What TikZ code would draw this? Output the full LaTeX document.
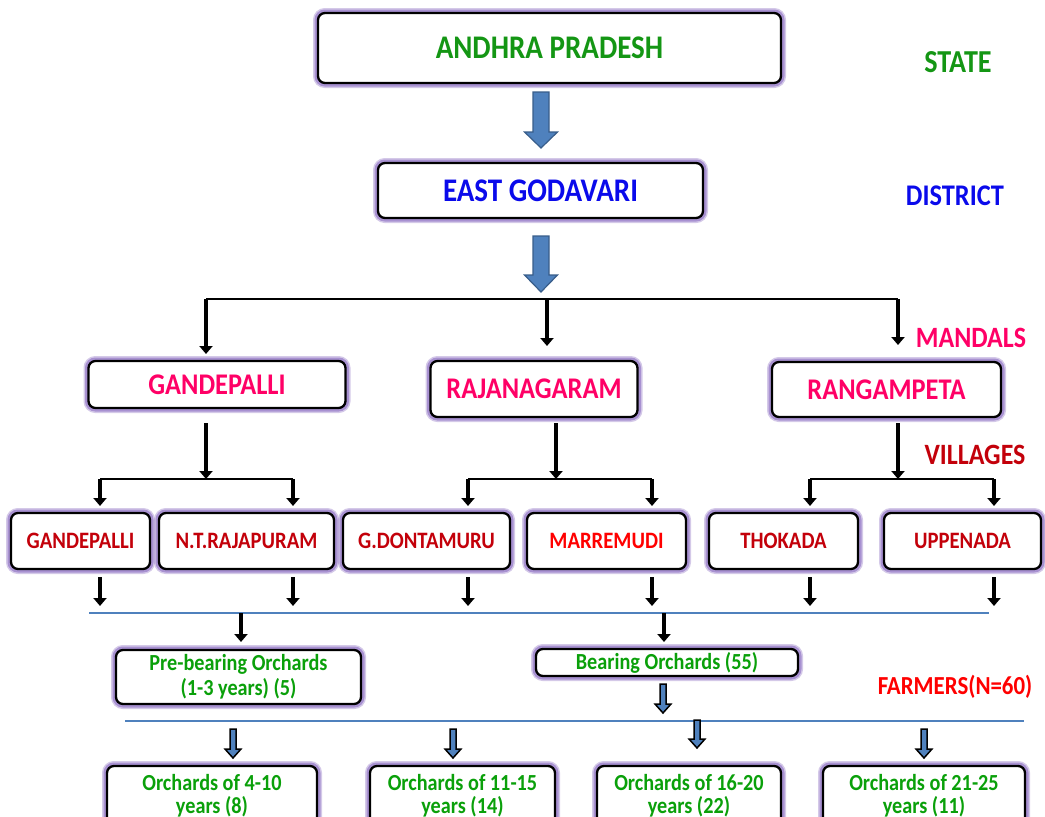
\documentclass[tikz,border=0pt]{standalone}
\usepackage{fontspec}
\setmainfont{Carlito}[FakeStretch=0.88]
\usetikzlibrary{arrows.meta}
\definecolor{glow}{RGB}{160,135,205}
\definecolor{apgreen}{RGB}{20,150,20}
\definecolor{okgreen}{RGB}{10,160,10}
\definecolor{egblue}{RGB}{10,10,235}
\definecolor{pink}{RGB}{255,0,102}
\definecolor{dred}{RGB}{195,0,10}
\definecolor{bred}{RGB}{255,0,0}
\definecolor{arrblue}{RGB}{79,129,189}
\definecolor{arredge}{RGB}{56,93,138}
\newcommand\fs[1]{\fontsize{#1}{#1}\selectfont\bfseries}
\newcommand\barrow[7]{% x, ytop, ytip, half shaft, half head, head length, style
  \draw[#7] (#1-#4,#2) -- (#1+#4,#2) -- (#1+#4,#3-#6) -- (#1+#5,#3-#6) -- (#1,#3)
    -- (#1-#5,#3-#6) -- (#1-#4,#3-#6) -- cycle;}
\tikzset{
  box/.style={draw=black, line width=2.3pt, rounded corners=7pt, fill=white,
    preaction={draw=glow, line width=10pt, opacity=0.45},
    preaction={draw=glow, line width=7pt, opacity=0.85},
    align=center, inner sep=2pt},
  arr/.style={line width=3.6pt, -{Triangle[width=13pt,length=8pt]}},
  bus/.style={line width=1.6pt},
  sep/.style={draw=arrblue, line width=1.2pt},
  bigarrow/.style={fill=arrblue, draw=arredge, line width=1.2pt},
  smallarrow/.style={fill=arrblue, draw=black, line width=1.5pt},
  lbl/.style={inner sep=0pt}
}
\begin{document}
\begin{tikzpicture}[x=1pt,y=-1pt]
\useasboundingbox (0,0) rectangle (1045,817);
\clip (0,0) rectangle (1045,817);
% top levels
\node[box, minimum width=463, minimum height=70, text=apgreen, font=\fs{33}] (ap) at (549.5,48) {ANDHRA PRADESH};
\node[box, minimum width=325, minimum height=55, text=egblue, font=\fs{33}] (eg) at (540.5,190.5) {EAST GODAVARI};
\node[lbl, text=apgreen, font=\fs{32}] (lstate) at (958,62) {STATE};
\node[lbl, text=egblue, font=\fs{30}] (ldist) at (955,196) {DISTRICT};
\barrow{541}{92}{148}{8}{16.5}{16}{bigarrow}
\barrow{541}{236}{292}{8}{16.5}{17}{bigarrow}
% mandals
\node[box, minimum width=257, minimum height=47, text=pink, font=\fs{30}] (m1) at (217,384.5) {GANDEPALLI};
\node[box, minimum width=207, minimum height=56, text=pink, font=\fs{30}] (m2) at (534,389) {RAJANAGARAM};
\node[box, minimum width=229, minimum height=55, text=pink, font=\fs{30}] (m3) at (886.5,389.5) {RANGAMPETA};
\node[lbl, text=pink, font=\fs{29.5}] (lmand) at (971,338) {MANDALS};
\node[lbl, text=dred, font=\fs{29.5}] (lvill) at (975,455) {VILLAGES};
\coordinate (t0) at (206,299);
\coordinate (t1) at (898,299);
\draw[bus] (t0) -- (t1);
\draw[arr] (t0) -- (206,354);
\draw[arr] (547,299) -- (547,346);
\draw[arr] (t1) -- (898,345);
% villages
\node[box, minimum width=139, minimum height=56, text=dred, font=\fs{23.5}] (v1) at (80.5,541) {GANDEPALLI};
\node[box, minimum width=175, minimum height=56, text=dred, font=\fs{23.5}] (v2) at (246.5,541) {N.T.RAJAPURAM};
\node[box, minimum width=167, minimum height=56, text=dred, font=\fs{23.5}] (v3) at (426.5,541) {G.DONTAMURU};
\node[box, minimum width=159, minimum height=56, text=bred, font=\fs{23.5}] (v4) at (606.5,541) {MARREMUDI};
\node[box, minimum width=149, minimum height=56, text=dred, font=\fs{23.5}] (v5) at (783.5,541) {THOKADA};
\node[box, minimum width=157, minimum height=56, text=dred, font=\fs{23.5}] (v6) at (962.5,541) {UPPENADA};
% mandal -> villages
\draw[arr] (206,423) -- (206,479);
\draw[bus] (100,479) -- (293,479);
\draw[arr] (100,479) -- (100,506);
\draw[arr] (293,479) -- (293,506);
\draw[arr] (556,423) -- (556,479);
\draw[bus] (468,479) -- (652,479);
\draw[arr] (468,479) -- (468,506);
\draw[arr] (652,479) -- (652,506);
\draw[arr] (898,423) -- (898,479);
\draw[bus] (810,479) -- (994,479);
\draw[arr] (810,479) -- (810,506);
\draw[arr] (994,479) -- (994,506);
% villages -> separator
\foreach \n/\x in {v1/100, v2/293, v3/468, v4/652, v5/810, v6/994}
  \draw[arr] (\x,577) -- (\x,606);
\draw[sep] (89,613) -- (989,613);
% orchard types
\node[box, minimum width=245, minimum height=54, text=okgreen, font=\fontsize{23}{25}\selectfont\bfseries] (pb) at (238.5,677) {Pre-bearing Orchards\\(1-3 years) (5)};
\node[box, minimum width=262, minimum height=27, inner sep=0pt, text=okgreen, font=\fs{23}] (br) at (667,662.5) {Bearing Orchards (55)};
\node[lbl, text=bred, font=\fs{26}] (lfarm) at (955,687) {FARMERS(N=60)};
\draw[arr] (241,613) -- (241,642);
\draw[arr] (664,613) -- (664,642);
\barrow{663}{684}{713}{3}{8}{9}{smallarrow}
\draw[sep] (125,721) -- (1024,721);
% bearing categories
\barrow{233}{729}{758}{3}{8}{9}{smallarrow}
\barrow{453}{729}{758}{3}{8}{9}{smallarrow}
\barrow{697}{720}{748}{3}{8}{9}{smallarrow}
\barrow{924}{729}{758}{3}{8}{9}{smallarrow}
\node[box, minimum width=210, minimum height=60, text=okgreen, font=\fontsize{23}{23}\selectfont\bfseries] (o1) at (212,796) {Orchards of 4-10\\years (8)};
\node[box, minimum width=185, minimum height=60, text=okgreen, font=\fontsize{23}{23}\selectfont\bfseries] (o2) at (462.5,796) {Orchards of 11-15\\years (14)};
\node[box, minimum width=184, minimum height=60, text=okgreen, font=\fontsize{23}{23}\selectfont\bfseries] (o3) at (689,796) {Orchards of 16-20\\years (22)};
\node[box, minimum width=202, minimum height=60, text=okgreen, font=\fontsize{23}{23}\selectfont\bfseries] (o4) at (924,796) {Orchards of 21-25\\years (11)};
\end{tikzpicture}
\end{document}
